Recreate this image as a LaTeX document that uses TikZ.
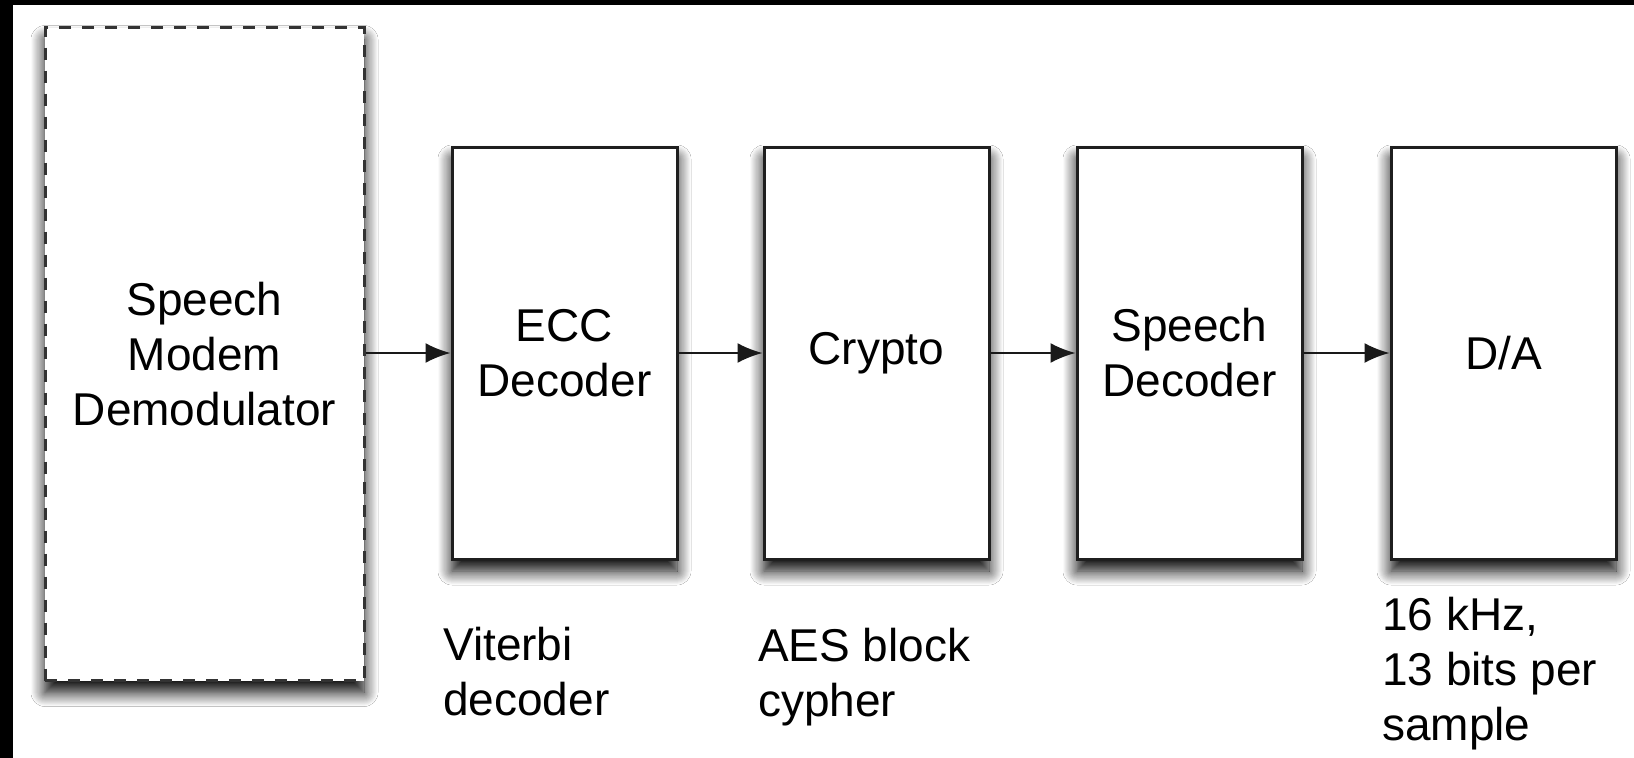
\documentclass[tikz,border=0pt]{standalone}
\usepackage{fontspec}
\setmainfont{Liberation Sans}
\usetikzlibrary{arrows.meta,shadows.blur}
\begin{document}
\begin{tikzpicture}[x=1pt,y=-1pt,
  txt/.style={font=\fontsize{46}{55}\selectfont, text=black},
  shade/.style={blur shadow={shadow xshift=0pt, shadow yshift=-12pt, shadow blur radius=14pt, shadow opacity=100, shadow blur steps=14}},
  blockbox/.style={draw=black!88, line width=3pt, fill=white, rectangle,
    minimum width=225pt, minimum height=412pt, inner sep=0pt, align=center, txt, shade},
  dashbox/.style={draw=black!80, line width=3pt, dash pattern=on 12pt off 11pt, fill=white, rectangle,
    minimum width=319pt, minimum height=653pt, inner sep=0pt, align=center, txt, shade},
  note/.style={txt, align=left, inner sep=0pt, anchor=base west},
  flow/.style={draw=black!90, line width=2pt, -{Latex[length=25pt,width=20pt]}}
]
\useasboundingbox (0,0) rectangle (1634,758);
\fill[white] (0,0) rectangle (1634,758);
\fill[black] (0,0) rectangle (1634,5);
\fill[black] (0,0) rectangle (13,758);

\node[dashbox] (modem) at (204.5,354) {Speech\\Modem\\Demodulator};
\node[blockbox] (ecc) at (564.5,353) {ECC\\Decoder};
\node[blockbox] (crypto) at (876.5,353) {Crypto};
\node[blockbox] (sdec) at (1189.5,353) {Speech\\Decoder};
\node[blockbox] (da) at (1503.5,353) {D/A};

\draw[flow] (modem.east |- ecc.west) -- (ecc.west);
\draw[flow] (ecc.east) -- (crypto.west);
\draw[flow] (crypto.east) -- (sdec.west);
\draw[flow] (sdec.east) -- (da.west);

\node[note] (vit) at (443,715) {Viterbi\\decoder};
\node[note] (aes) at (758,716) {AES block\\cypher};
\node[note] (rate) at (1382,740) {16 kHz,\\13 bits per\\sample};
\end{tikzpicture}
\end{document}
